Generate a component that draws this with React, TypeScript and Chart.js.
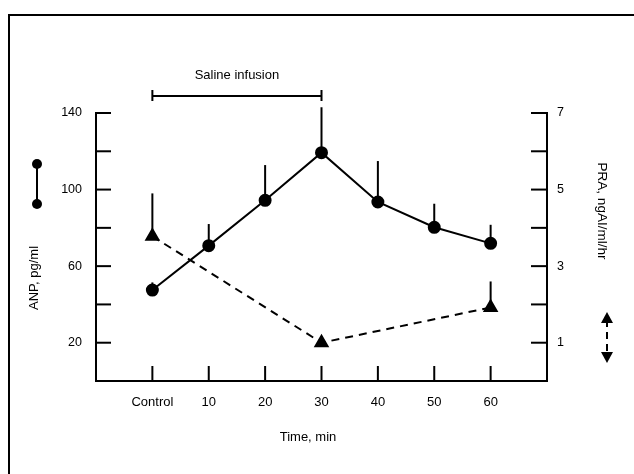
import React, { useEffect, useRef } from "react";
import { Chart, registerables } from "chart.js";

Chart.register(...registerables);

// ---- data ----
const timePoints = [0, 10, 20, 30, 40, 50, 60];
const anpMean = [47.5, 70.7, 94.4, 119.3, 93.5, 80.3, 71.9];
const anpUpper = [51.5, 82, 112.8, 143, 114.9, 92.6, 81.6];
const praTimes = [0, 30, 60];
const praMean = [3.78, 1.0, 1.92];
const praUpper = [4.9, 1.17, 2.6];
const leftTickLabels = [20, 60, 100, 140];
const rightTickLabels = [1, 3, 5, 7];
const xTickLabels: Record<number, string> = {
  0: "Control", 10: "10", 20: "20", 30: "30", 40: "40", 50: "50", 60: "60",
};
const infusionStart = 0;
const infusionEnd = 30;

const FONT = "'Liberation Sans', Arial, sans-serif";

const overlay = {
  id: "overlay",
  beforeDatasetsDraw(chart: any) {
    const ctx = chart.ctx;
    const x = chart.scales.x;
    const yl = chart.scales.yL;
    const yr = chart.scales.yR;
    ctx.save();
    ctx.strokeStyle = "#000";
    ctx.lineWidth = 2;
    timePoints.forEach((t, i) => {
      const px = x.getPixelForValue(t);
      ctx.beginPath();
      ctx.moveTo(px, yl.getPixelForValue(anpMean[i]));
      ctx.lineTo(px, yl.getPixelForValue(anpUpper[i]));
      ctx.stroke();
    });
    praTimes.forEach((t, i) => {
      const px = x.getPixelForValue(t);
      ctx.beginPath();
      ctx.moveTo(px, yr.getPixelForValue(praMean[i]));
      ctx.lineTo(px, yr.getPixelForValue(praUpper[i]));
      ctx.stroke();
    });
    ctx.restore();
  },
  afterDraw(chart: any) {
    const ctx = chart.ctx;
    const x = chart.scales.x;
    const yl = chart.scales.yL;
    const yr = chart.scales.yR;
    const area = chart.chartArea;
    ctx.save();
    ctx.strokeStyle = "#000";
    ctx.fillStyle = "#000";
    ctx.lineWidth = 2;
    // page frame
    ctx.beginPath();
    ctx.moveTo(9, 474);
    ctx.lineTo(9, 15);
    ctx.lineTo(634, 15);
    ctx.stroke();
    // inward ticks
    for (let v = 20; v <= 140; v += 20) {
      const py = yl.getPixelForValue(v);
      ctx.beginPath();
      ctx.moveTo(area.left, py);
      ctx.lineTo(area.left + 15, py);
      ctx.stroke();
    }
    for (let v = 1; v <= 7; v += 1) {
      const py = yr.getPixelForValue(v);
      ctx.beginPath();
      ctx.moveTo(area.right, py);
      ctx.lineTo(area.right - 16, py);
      ctx.stroke();
    }
    timePoints.forEach((t) => {
      const px = x.getPixelForValue(t);
      ctx.beginPath();
      ctx.moveTo(px, area.bottom);
      ctx.lineTo(px, area.bottom - 15);
      ctx.stroke();
    });
    // saline infusion bracket
    const bx0 = x.getPixelForValue(infusionStart);
    const bx1 = x.getPixelForValue(infusionEnd);
    ctx.beginPath();
    ctx.moveTo(bx0, 96);
    ctx.lineTo(bx1, 96);
    ctx.moveTo(bx0, 90);
    ctx.lineTo(bx0, 101);
    ctx.moveTo(bx1, 90);
    ctx.lineTo(bx1, 101);
    ctx.stroke();
    ctx.font = "13px " + FONT;
    ctx.textAlign = "center";
    ctx.textBaseline = "middle";
    ctx.fillText("Saline infusion", (bx0 + bx1) / 2, 75);
    ctx.fillText("Time, min", 308, 437);
    ctx.save();
    ctx.translate(34, 278);
    ctx.rotate(-Math.PI / 2);
    ctx.fillText("ANP, pg/ml", 0, 0);
    ctx.restore();
    ctx.save();
    ctx.font = "13.5px " + FONT;
    ctx.translate(602, 211);
    ctx.rotate(Math.PI / 2);
    ctx.fillText("PRA, ngAI/ml/hr", 0, 0);
    ctx.restore();
    // left legend symbol
    ctx.beginPath();
    ctx.moveTo(37, 164);
    ctx.lineTo(37, 204);
    ctx.stroke();
    [164, 204].forEach((cy) => {
      ctx.beginPath();
      ctx.arc(37, cy, 5, 0, Math.PI * 2);
      ctx.fill();
    });
    // right legend symbol
    ctx.setLineDash([7, 5]);
    ctx.beginPath();
    ctx.moveTo(607, 320);
    ctx.lineTo(607, 356);
    ctx.stroke();
    ctx.setLineDash([]);
    ctx.beginPath();
    ctx.moveTo(607, 312);
    ctx.lineTo(601, 323);
    ctx.lineTo(613, 323);
    ctx.closePath();
    ctx.fill();
    ctx.beginPath();
    ctx.moveTo(601, 352);
    ctx.lineTo(613, 352);
    ctx.lineTo(607, 363);
    ctx.closePath();
    ctx.fill();
    ctx.restore();
  },
};

export default function App() {
  const ref = useRef<HTMLCanvasElement>(null);
  useEffect(() => {
    if (!ref.current) return;
    const chart = new Chart(ref.current, {
      type: "line",
      data: {
        datasets: [
          {
            label: "ANP",
            data: timePoints.map((t, i) => ({ x: t, y: anpMean[i] })),
            yAxisID: "yL",
            borderColor: "#000",
            backgroundColor: "#000",
            borderWidth: 2,
            pointStyle: "circle",
            pointRadius: 5.5,
            pointBackgroundColor: "#000",
            pointBorderColor: "#000",
            tension: 0,
          },
          {
            label: "PRA",
            data: praTimes.map((t, i) => ({ x: t, y: praMean[i] })),
            yAxisID: "yR",
            borderColor: "#000",
            backgroundColor: "#000",
            borderWidth: 2,
            borderDash: [8, 6],
            pointStyle: "triangle",
            pointRadius: 7,
            pointBackgroundColor: "#000",
            pointBorderColor: "#000",
            tension: 0,
          },
        ],
      },
      options: {
        responsive: false,
        animation: false,
        clip: false as any,
        layout: { padding: { top: 113, left: 0, right: 0, bottom: 0 } },
        plugins: { legend: { display: false }, tooltip: { enabled: false } },
        scales: {
          x: {
            type: "linear",
            min: -10,
            max: 70,
            grid: { display: false, drawTicks: false },
            border: { display: true, width: 2, color: "#000" },
            ticks: {
              stepSize: 10,
              padding: 14,
              color: "#000",
              font: { family: FONT, size: 13 },
              maxRotation: 0,
              callback: (v: any) => xTickLabels[v as number] ?? "",
            },
            afterFit: (s: any) => {
              s.height = 93;
              s.paddingLeft = 0;
              s.paddingRight = 0;
            },
          },
          yL: {
            type: "linear",
            position: "left",
            min: 0,
            max: 140,
            grid: { display: false, drawTicks: false },
            border: { display: true, width: 2, color: "#000" },
            ticks: {
              stepSize: 20,
              padding: 14,
              color: "#000",
              font: { family: FONT, size: 12.5 },
              callback: (v: any) => (leftTickLabels.includes(v) ? String(v) : ""),
            },
            afterFit: (s: any) => {
              s.width = 96;
              s.paddingTop = 0;
              s.paddingBottom = 0;
            },
          },
          yR: {
            type: "linear",
            position: "right",
            min: 0,
            max: 7,
            grid: { display: false, drawTicks: false },
            border: { display: true, width: 2, color: "#000" },
            ticks: {
              stepSize: 1,
              padding: 10,
              color: "#000",
              font: { family: FONT, size: 12.5 },
              callback: (v: any) => (rightTickLabels.includes(v) ? String(v) : ""),
            },
            afterFit: (s: any) => {
              s.width = 87;
              s.paddingTop = 0;
              s.paddingBottom = 0;
            },
          },
        },
      },
      plugins: [overlay],
    });
    return () => chart.destroy();
  }, []);
  return (
    <div style={{ position: "absolute", left: 0, top: 0, width: 634, height: 474, background: "#fff" }}>
      <canvas ref={ref} width={634} height={474} />
    </div>
  );
}
